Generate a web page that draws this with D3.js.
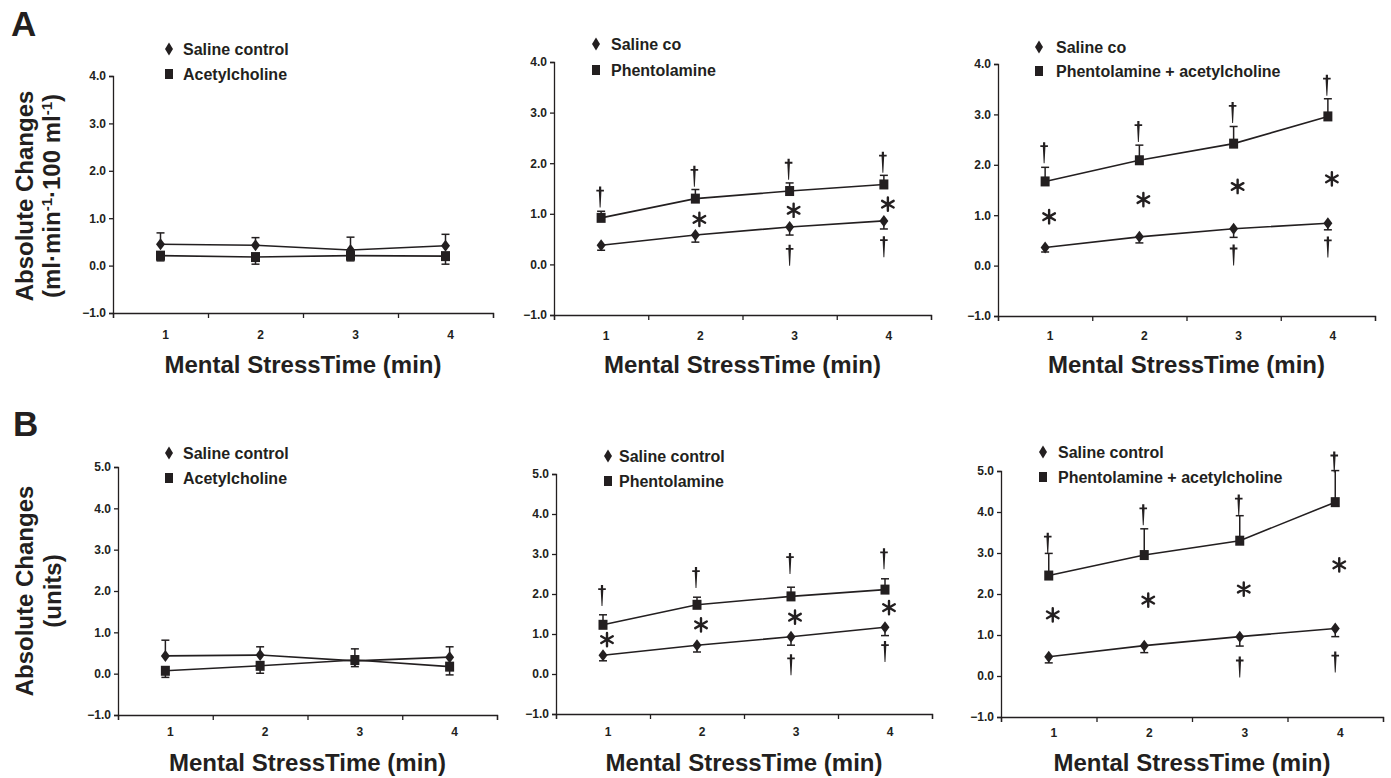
<!DOCTYPE html>
<html>
<head>
<meta charset="utf-8">
<script src="https://cdn.jsdelivr.net/npm/d3@7"></script>
<style>
  body { margin: 0; background: #fff; }
  svg text { font-family: "Liberation Sans", Arial, sans-serif; font-weight: bold; fill: #231f20; }
</style>
</head>
<body>
<svg id="fig" width="1391" height="778"></svg>
<script>
// values (means and SE per minute)
const minutes = [1, 2, 3, 4];

const a1Saline = [0.45, 0.43, 0.33, 0.42];
const a1SalineErr = [0.24, 0.16, 0.27, 0.24];
const a1Ach = [0.21, 0.18, 0.21, 0.20];
const a1AchErr = [0.11, 0.15, 0.11, 0.17];

const a2Saline = [0.38, 0.58, 0.74, 0.86];
const a2SalineErr = [0.10, 0.14, 0.16, 0.16];
const a2Phen = [0.92, 1.30, 1.45, 1.58];
const a2PhenErr = [0.13, 0.18, 0.16, 0.18];

const a3Saline = [0.36, 0.57, 0.73, 0.84];
const a3SalineErr = [0.09, 0.12, 0.17, 0.13];
const a3PhenAch = [1.67, 2.09, 2.42, 2.96];
const a3PhenAchErr = [0.28, 0.30, 0.34, 0.35];

const b1Saline = [0.43, 0.45, 0.31, 0.40];
const b1SalineErr = [0.38, 0.20, 0.29, 0.25];
const b1Ach = [0.07, 0.19, 0.33, 0.17];
const b1AchErr = [0.16, 0.18, 0.16, 0.20];

const b2Saline = [0.47, 0.72, 0.93, 1.17];
const b2SalineErr = [0.14, 0.17, 0.21, 0.21];
const b2Phen = [1.23, 1.73, 1.94, 2.11];
const b2PhenErr = [0.25, 0.19, 0.23, 0.27];

const b3Saline = [0.47, 0.74, 0.96, 1.16];
const b3SalineErr = [0.15, 0.17, 0.23, 0.20];
const b3PhenAch = [2.45, 2.95, 3.30, 4.24];
const b3PhenAchErr = [0.54, 0.64, 0.61, 0.77];

// significance marks (y value where each symbol sits, null = none)
const a2DaggerUp = [1.33, 1.74, 1.88, 2.02];
const a2Star = [null, 0.89, 1.07, 1.19];
const a2DaggerDown = [null, null, 0.18, 0.35];
const a3DaggerUp = [2.24, 2.66, 3.04, 3.58];
const a3Star = [0.97, 1.31, 1.57, 1.72];
const a3DaggerDown = [null, null, 0.21, 0.37];
const b2DaggerUp = [1.96, 2.41, 2.76, 2.88];
const b2Star = [0.86, 1.23, 1.42, 1.66];
const b2DaggerDown = [null, null, 0.23, 0.56];
const b3DaggerUp = [3.24, 3.93, 4.17, 5.22];
const b3Star = [1.49, 1.85, 2.12, 2.71];
const b3DaggerDown = [null, null, 0.22, 0.34];

const yTicksA = [-1, 0, 1, 2, 3, 4];
const yTicksB = [-1, 0, 1, 2, 3, 4, 5];
const xTitle = 'Mental StressTime (min)';

const ink = '#231f20';
const svg = d3.select('#fig');

const panels = [
  { x0: 113, x1: 493, yTop: 76, yBot: 313, ticks: yTicksA, lab: 22, tt: 60,
    leg: [169, 49, 74, 183], names: ['Saline control', 'Acetylcholine'],
    ctrl: a1Saline, ctrlErr: a1SalineErr, trt: a1Ach, trtErr: a1AchErr },
  { x0: 554, x1: 931, yTop: 62, yBot: 315, ticks: yTicksA, lab: 21, tt: 58,
    leg: [596, 44, 70, 611], names: ['Saline co', 'Phentolamine'],
    ctrl: a2Saline, ctrlErr: a2SalineErr, trt: a2Phen, trtErr: a2PhenErr,
    up: a2DaggerUp, star: a2Star, down: a2DaggerDown },
  { x0: 998, x1: 1375, yTop: 64, yBot: 316, ticks: yTicksA, lab: 20, tt: 57,
    leg: [1039, 47, 71, 1056], names: ['Saline co', 'Phentolamine + acetylcholine'],
    ctrl: a3Saline, ctrlErr: a3SalineErr, trt: a3PhenAch, trtErr: a3PhenAchErr,
    up: a3DaggerUp, star: a3Star, down: a3DaggerDown },
  { x0: 118, x1: 497, yTop: 467, yBot: 715, ticks: yTicksB, lab: 17, tt: 56,
    leg: [169, 453, 478, 183], names: ['Saline control', 'Acetylcholine'],
    ctrl: b1Saline, ctrlErr: b1SalineErr, trt: b1Ach, trtErr: b1AchErr },
  { x0: 556, x1: 932, yTop: 474, yBot: 714, ticks: yTicksB, lab: 18, tt: 57,
    leg: [608, 456, 481, 619], names: ['Saline control', 'Phentolamine'],
    ctrl: b2Saline, ctrlErr: b2SalineErr, trt: b2Phen, trtErr: b2PhenErr,
    up: b2DaggerUp, star: b2Star, down: b2DaggerDown },
  { x0: 1001, x1: 1383, yTop: 471, yBot: 717, ticks: yTicksB, lab: 16, tt: 54,
    leg: [1043, 452, 477, 1058], names: ['Saline control', 'Phentolamine + acetylcholine'],
    ctrl: b3Saline, ctrlErr: b3SalineErr, trt: b3PhenAch, trtErr: b3PhenAchErr,
    up: b3DaggerUp, star: b3Star, down: b3DaggerDown }
];

const diamondPath = (w, h) => `M0,${-h}L${w},0L0,${h}L${-w},0Z`;
const daggerPath = 'M-1.1,-10.5H1.1V-7.4H3.8V-5.6H1.3L0.45,10.5H-0.45L-1.3,-5.6H-3.8V-7.4H-1.1Z';
const star = d3.symbol(d3.symbolAsterisk, 125);

function drawSeries(g, x, y, vals, errs, dir, shape) {
  const pts = minutes.map((m, i) => ({ m, v: vals[i], e: errs[i] }));
  g.append('path')
    .datum(pts)
    .attr('fill', 'none')
    .attr('stroke', ink)
    .attr('stroke-width', 1.6)
    .attr('d', d3.line().x(d => x(d.m)).y(d => y(d.v)));

  const eb = g.append('g').attr('stroke', ink).attr('stroke-width', 1.5);
  pts.forEach(d => {
    const end = y(d.v + dir * d.e);
    eb.append('line').attr('x1', x(d.m)).attr('x2', x(d.m)).attr('y1', y(d.v)).attr('y2', end);
    eb.append('line').attr('x1', x(d.m) - 4).attr('x2', x(d.m) + 4).attr('y1', end).attr('y2', end);
  });

  pts.forEach(d => {
    if (shape === 'diamond') {
      g.append('path').attr('d', diamondPath(4.5, 6))
        .attr('transform', `translate(${x(d.m)},${y(d.v)})`).attr('fill', ink);
    } else {
      g.append('rect').attr('x', x(d.m) - 4.5).attr('y', y(d.v) - 5)
        .attr('width', 9).attr('height', 10).attr('fill', ink);
    }
  });
}

function drawMarks(g, x, y, vals, kind, dx) {
  if (!vals) return;
  vals.forEach((v, i) => {
    if (v == null) return;
    const t = `translate(${x(minutes[i]) + dx},${y(v)})`;
    if (kind === 'dagger') {
      g.append('path').attr('d', daggerPath).attr('transform', t).attr('fill', ink);
    } else {
      g.append('path').attr('d', star()).attr('transform', t)
        .attr('fill', 'none').attr('stroke', ink).attr('stroke-width', 2.4).attr('stroke-linecap', 'round');
    }
  });
}

panels.forEach(p => {
  const g = svg.append('g');
  const x = d3.scaleLinear().domain([0.5, 4.5]).range([p.x0, p.x1]);
  const y = d3.scaleLinear().domain([-1, p.ticks[p.ticks.length - 1]]).range([p.yBot, p.yTop]);

  // y axis
  const ya = g.append('g').attr('transform', `translate(${p.x0},0)`)
    .call(d3.axisLeft(y).tickValues(p.ticks).tickFormat(d3.format('.1f')).tickSizeOuter(0).tickSize(4).tickPadding(3));
  ya.select('.domain').attr('stroke', ink).attr('stroke-width', 1.3);
  ya.selectAll('.tick line').attr('stroke', ink).attr('stroke-width', 1.3);
  ya.selectAll('.tick text').attr('font-size', 12).attr('fill', ink)
    .attr('font-family', '"Liberation Sans", Arial, sans-serif').attr('font-weight', 'bold');

  // x axis: ticks on the band edges, labels in the middle
  const xa = g.append('g').attr('transform', `translate(0,${p.yBot})`)
    .call(d3.axisBottom(x).tickValues([0.5, 1.5, 2.5, 3.5, 4.5]).tickFormat('').tickSizeOuter(0).tickSize(5));
  xa.select('.domain').attr('stroke', ink).attr('stroke-width', 1.3);
  xa.selectAll('.tick line').attr('stroke', ink).attr('stroke-width', 1.3);
  g.selectAll('.xlab').data(minutes).join('text')
    .attr('x', d => x(d) + 5).attr('y', p.yBot + p.lab).attr('dy', '0.35em')
    .attr('text-anchor', 'middle').attr('font-size', 12).text(d => d);

  g.append('text').attr('x', (p.x0 + p.x1) / 2).attr('y', p.yBot + p.tt)
    .attr('text-anchor', 'middle').attr('font-size', 24).text(xTitle);

  drawSeries(g, x, y, p.ctrl, p.ctrlErr, p.trt[3] > p.ctrl[3] ? -1 : 1, 'diamond');
  drawSeries(g, x, y, p.trt, p.trtErr, p.trt[3] > p.ctrl[3] ? 1 : -1, 'square');

  drawMarks(g, x, y, p.up, 'dagger', -1);
  drawMarks(g, x, y, p.star, 'star', 4);
  drawMarks(g, x, y, p.down, 'dagger', 0);

  // legend
  const [lx, ly1, ly2, tx] = p.leg;
  g.append('path').attr('d', diamondPath(4, 6.5)).attr('transform', `translate(${lx},${ly1})`).attr('fill', ink);
  g.append('rect').attr('x', lx - 4).attr('y', ly2 - 5).attr('width', 8).attr('height', 10).attr('fill', ink);
  g.append('text').attr('x', tx).attr('y', ly1).attr('dy', '0.36em').attr('font-size', 16).text(p.names[0]);
  g.append('text').attr('x', tx).attr('y', ly2).attr('dy', '0.36em').attr('font-size', 16).text(p.names[1]);
});

// panel letters
svg.append('text').attr('x', 11).attr('y', 36).attr('font-size', 35).text('A');
svg.append('text').attr('x', 13).attr('y', 436).attr('font-size', 35).text('B');

// y titles
const tA = svg.append('g').attr('transform', 'translate(0,196) rotate(-90)');
tA.append('text').attr('x', 0).attr('y', 33).attr('text-anchor', 'middle').attr('font-size', 24).text('Absolute Changes');
const tA2 = tA.append('text').attr('x', 0).attr('y', 60).attr('text-anchor', 'middle').attr('font-size', 24);
tA2.append('tspan').text('(ml\u00b7min');
tA2.append('tspan').attr('dy', -8).attr('font-size', 15).text('-1');
tA2.append('tspan').attr('dy', 8).text('\u00b7100 ml');
tA2.append('tspan').attr('dy', -8).attr('font-size', 15).text('-1');
tA2.append('tspan').attr('dy', 8).text(')');

const tB = svg.append('g').attr('transform', 'translate(0,591) rotate(-90)');
tB.append('text').attr('x', 0).attr('y', 33).attr('text-anchor', 'middle').attr('font-size', 24).text('Absolute Changes');
tB.append('text').attr('x', 0).attr('y', 61).attr('text-anchor', 'middle').attr('font-size', 24).text('(units)');
</script>
</body>
</html>
